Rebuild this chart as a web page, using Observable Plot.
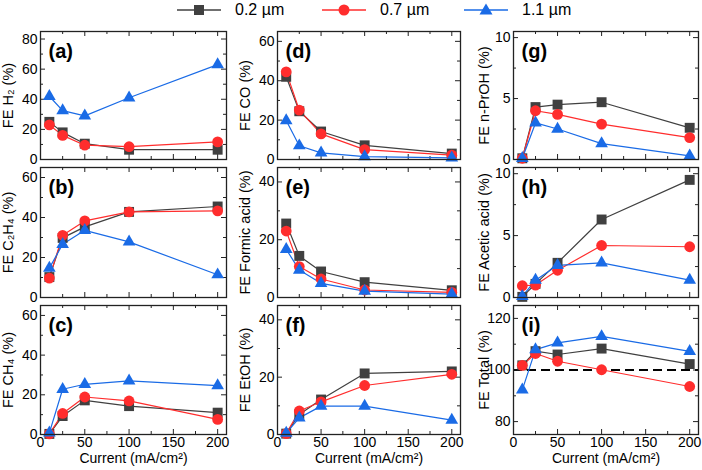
<!DOCTYPE html>
<html><head><meta charset="utf-8">
<script src="https://cdn.jsdelivr.net/npm/d3@7"></script>
<script src="https://cdn.jsdelivr.net/npm/@observablehq/plot@0.6"></script>
<style>
body{margin:0;background:#fff;}
#chart{position:relative;width:702px;height:470px;overflow:hidden;font-family:"Liberation Sans",Arial,sans-serif;}
.panel{position:absolute;}
.leg{position:absolute;top:0;height:19px;display:flex;align-items:center;font-size:16px;color:#000;white-space:nowrap;}
.leg svg{margin-right:14px;}
</style></head><body><div id="chart"></div>
<script>
// ---- data ----
const current = [10, 25, 50, 100, 200];
const seriesNames = ["0.2 \u00b5m", "0.7 \u00b5m", "1.1 \u00b5m"];
const seriesColors = ["#404040", "#ff2d2d", "#1a6be6"];
const seriesSymbols = ["square", "circle", "triangle"];
const xTicks = [0, 50, 100, 150, 200];
const xMinor = [25, 75, 125, 175];

const h2_02 = [25, 18, 10.5, 6.5, 6.5];
const h2_07 = [23, 16, 9.5, 8.5, 11.7];
const h2_11 = [42, 32.5, 29, 41, 63];

const c2h4_02 = [10.2, 29.8, 35.3, 42.8, 45.5];
const c2h4_07 = [9.7, 31.1, 38.3, 42.8, 43.3];
const c2h4_11 = [14.7, 26.6, 33.6, 27.8, 11.4];

const ch4_02 = [0.3, 9.3, 17.2, 14.3, 11];
const ch4_07 = [0.3, 10.6, 18.9, 16.9, 7.6];
const ch4_11 = [0.8, 22.8, 25.3, 27, 24.6];

const co_02 = [42, 24.5, 14.2, 7.2, 3];
const co_07 = [44.5, 25.1, 13, 5, 2.2];
const co_11 = [19.8, 7, 3.4, 1.5, 0.8];

const formic_02 = [25.6, 14.4, 9, 5.3, 2.5];
const formic_07 = [23, 10.7, 6.4, 2.6, 1.8];
const formic_11 = [16.7, 9.5, 4.9, 2.2, 1.2];

const etoh_02 = [0.3, 7, 12.2, 21.3, 22];
const etoh_07 = [0.3, 8.2, 11.4, 17.1, 21];
const etoh_11 = [0.5, 5.8, 9.9, 9.9, 5];

const prop_02 = [0.1, 4.3, 4.5, 4.7, 2.6];
const prop_07 = [0.1, 4.0, 3.7, 2.9, 1.8];
const prop_11 = [0.1, 3.0, 2.5, 1.3, 0.3];

const acetic_02 = [0.05, 1.1, 2.8, 6.3, 9.5];
const acetic_07 = [0.95, 1.0, 2.2, 4.2, 4.1];
const acetic_11 = [0.1, 1.4, 2.6, 2.8, 1.4];

const total_02 = [101.8, 107.3, 106, 108.3, 102.3];
const total_07 = [101.8, 106.4, 103.4, 100.1, 93.6];
const total_11 = [92.3, 107.9, 110.5, 113, 107.2];

const yTicks6 = [0, 20, 40, 60], yMinor6 = [10, 30, 50];
const panels = [
  {tag: "(a)", ylabel: "FE H\u2082 (%)", domain: [0, 85], ticks: [0, 20, 40, 60, 80], minor: [10, 30, 50, 70], vals: [h2_02, h2_07, h2_11], row: 0, col: 0},
  {tag: "(b)", ylabel: "FE C\u2082H\u2084 (%)", domain: [0, 65], ticks: yTicks6, minor: yMinor6, vals: [c2h4_02, c2h4_07, c2h4_11], row: 1, col: 0},
  {tag: "(c)", ylabel: "FE CH\u2084 (%)", domain: [0, 65], ticks: yTicks6, minor: yMinor6, vals: [ch4_02, ch4_07, ch4_11], row: 2, col: 0},
  {tag: "(d)", ylabel: "FE CO (%)", domain: [0, 65], ticks: yTicks6, minor: yMinor6, vals: [co_02, co_07, co_11], row: 0, col: 1},
  {tag: "(e)", ylabel: "FE Formic acid (%)", domain: [0, 45], ticks: [0, 20, 40], minor: [10, 30], vals: [formic_02, formic_07, formic_11], row: 1, col: 1},
  {tag: "(f)", ylabel: "FE EtOH (%)", domain: [0, 45], ticks: [0, 20, 40], minor: [10, 30], vals: [etoh_02, etoh_07, etoh_11], row: 2, col: 1},
  {tag: "(g)", ylabel: "FE n-PrOH (%)", domain: [0, 10.5], ticks: [0, 5, 10], minor: [2.5, 7.5], vals: [prop_02, prop_07, prop_11], row: 0, col: 2},
  {tag: "(h)", ylabel: "FE Acetic acid (%)", domain: [0, 10.5], ticks: [0, 5, 10], minor: [2.5, 7.5], vals: [acetic_02, acetic_07, acetic_11], row: 1, col: 2},
  {tag: "(i)", ylabel: "FE Total (%)", domain: [75, 125], ticks: [80, 100, 120], minor: [90, 110], vals: [total_02, total_07, total_11], row: 2, col: 2, ref: [100]}
];
const xLabel = "Current (mA/cm\u00b2)";

// ---- layout ----
const colFrames = [[40, 226], [277, 460], [513, 698]];
const rowFrames = [[31, 159], [167, 297], [305, 434]];
const symbolR = {square: 5.6, circle: 5.4, triangle: 4.7};
const chart = document.getElementById("chart");

for (const p of panels) {
  const [x0, x1] = colFrames[p.col], [y0, y1] = rowFrames[p.row];
  const fw = x1 - x0, fh = y1 - y0;
  const ML = 46, MR = 4, MT = 4, MB = p.row === 2 ? 36 : 4;
  const bottom = p.row === 2;
  const marks = [];
  if (p.ref) marks.push(Plot.ruleY(p.ref, {stroke: "#000", strokeWidth: 2, strokeDasharray: "9,5"}));
  // inner ticks on all four sides
  marks.push(Plot.tickX(xTicks, {x: d => d, insetTop: fh - 5, stroke: "#222"}));
  marks.push(Plot.tickX(xTicks, {x: d => d, insetBottom: fh - 5, stroke: "#222"}));
  marks.push(Plot.tickX(xMinor, {x: d => d, insetTop: fh - 3, stroke: "#222"}));
  marks.push(Plot.tickX(xMinor, {x: d => d, insetBottom: fh - 3, stroke: "#222"}));
  marks.push(Plot.tickY(p.ticks, {y: d => d, insetRight: fw - 5, stroke: "#222"}));
  marks.push(Plot.tickY(p.ticks, {y: d => d, insetLeft: fw - 5, stroke: "#222"}));
  marks.push(Plot.tickY(p.minor, {y: d => d, insetRight: fw - 3, stroke: "#222"}));
  marks.push(Plot.tickY(p.minor, {y: d => d, insetLeft: fw - 3, stroke: "#222"}));
  marks.push(Plot.axisY(p.ticks, {tickSize: 0, tickPadding: 3, label: null, fontSize: 14}));
  if (bottom) {
    marks.push(Plot.axisX(xTicks, {tickSize: 0, tickPadding: 3, label: null, fontSize: 14}));
    marks.push(Plot.text([xLabel], {text: d => d, frameAnchor: "bottom", dy: 24, lineAnchor: "middle", textAnchor: "middle", fontSize: 14}));
  }
  // series lines then markers
  p.vals.forEach((vals, s) => {
    const rows = vals.map((v, i) => ({x: current[i], y: v}));
    marks.push(Plot.line(rows, {x: "x", y: "y", stroke: seriesColors[s], strokeWidth: 1.2}));
  });
  p.vals.forEach((vals, s) => {
    const rows = vals.map((v, i) => ({x: current[i], y: v}));
    marks.push(Plot.dot(rows, {x: "x", y: "y", symbol: seriesSymbols[s], r: symbolR[seriesSymbols[s]], fill: seriesColors[s], stroke: "none"}));
  });
  marks.push(Plot.frame({stroke: "#222", strokeWidth: 1.3}));
  marks.push(Plot.text([p.tag], {text: d => d, frameAnchor: "top-left", dx: 8, dy: 12, lineAnchor: "top", fontWeight: "bold", fontSize: 20}));
  marks.push(Plot.text([p.ylabel], {text: d => d, frameAnchor: "left", rotate: -90, dx: p.col === 2 ? -29 : -32, textAnchor: "middle", lineAnchor: "middle", fontSize: 14.5}));

  const svg = Plot.plot({
    width: ML + fw + MR, height: MT + fh + MB,
    marginLeft: ML, marginRight: MR, marginTop: MT, marginBottom: MB,
    x: {domain: [0, 210], axis: null},
    y: {domain: p.domain, axis: null},
    style: {fontFamily: "'Liberation Sans', Arial, sans-serif", fontSize: "14px", color: "#000", background: "transparent", overflow: "visible"},
    marks
  });
  svg.classList.add("panel");
  svg.style.left = (x0 - ML) + "px";
  svg.style.top = (y0 - MT) + "px";
  chart.appendChild(svg);
}

// ---- legend ----
const legX = [177, 322, 464];
seriesNames.forEach((name, s) => {
  const div = document.createElement("div");
  div.className = "leg";
  div.style.left = legX[s] + "px";
  const sym = seriesSymbols[s], c = seriesColors[s];
  let m;
  if (sym === "square") m = `<rect x="17" y="5" width="10" height="10" fill="${c}"/>`;
  else if (sym === "circle") m = `<circle cx="22" cy="10" r="5.5" fill="${c}"/>`;
  else m = `<path d="M22,3.5 L28.5,14.5 L15.5,14.5 Z" fill="${c}"/>`;
  div.innerHTML = `<svg width="44" height="20"><line x1="0" x2="44" y1="10" y2="10" stroke="${c}" stroke-width="1.5"/>${m}</svg><span>${name}</span>`;
  chart.appendChild(div);
});
</script>
</body></html>
